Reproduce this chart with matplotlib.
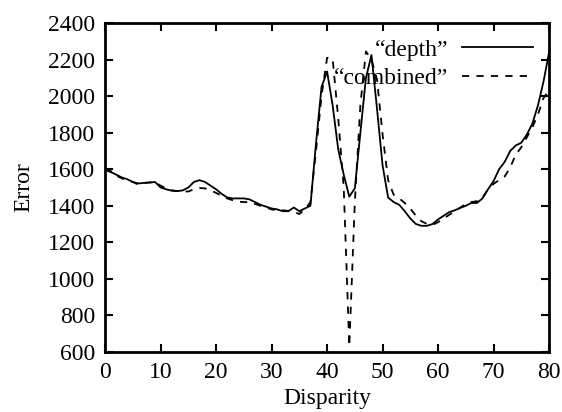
import matplotlib
matplotlib.use("Agg")
import matplotlib.pyplot as plt
import numpy as np

disparity = np.arange(0, 81)

depth = [1595, 1585, 1570, 1555, 1545, 1530, 1522, 1525, 1527, 1530,
         1500, 1490, 1482, 1480, 1484, 1500, 1530, 1540, 1530, 1510,
         1490, 1465, 1445, 1440, 1440, 1440, 1435, 1420, 1405, 1395,
         1385, 1380, 1370, 1370, 1390, 1370, 1385, 1400, 1740, 2050,
         2135, 1950, 1710, 1570, 1450, 1495, 1800, 2100, 2225, 1930,
         1620, 1445, 1420, 1405, 1370, 1330, 1300, 1290, 1290, 1300,
         1325, 1345, 1365, 1375, 1388, 1400, 1415, 1415, 1440, 1490,
         1535, 1600, 1640, 1700, 1730, 1745, 1790, 1850, 1950, 2080,
         2240]

combined = [1600, 1590, 1565, 1550, 1540, 1530, 1515, 1525, 1527, 1530,
            1510, 1495, 1485, 1480, 1478, 1478, 1490, 1497, 1495, 1485,
            1470, 1455, 1440, 1430, 1422, 1420, 1420, 1410, 1400, 1390,
            1380, 1375, 1375, 1372, 1365, 1355, 1380, 1420, 1700, 2000,
            2210, 2205, 1880, 1500, 630, 1420, 1950, 2245, 2200, 2090,
            1790, 1540, 1460, 1440, 1415, 1385, 1345, 1315, 1300, 1295,
            1310, 1330, 1350, 1370, 1390, 1410, 1420, 1425, 1445, 1490,
            1520, 1540, 1560, 1610, 1680, 1720, 1775, 1830, 1900, 1990,
            2030]

xticks = [0, 10, 20, 30, 40, 50, 60, 70, 80]
yticks = [600, 800, 1000, 1200, 1400, 1600, 1800, 2000, 2200, 2400]

plt.rcParams['font.family'] = ['Liberation Serif', 'DejaVu Serif']

fig = plt.figure(figsize=(5.62, 4.12), dpi=100, facecolor="white")
ax = fig.add_axes([0.187, 0.146, 0.790, 0.798])

ax.plot(disparity, depth, color="black", linewidth=1.3, label="\u201cdepth\u201d")
ax.plot(disparity, combined, color="black", linewidth=1.3, linestyle=(0, (4, 4)),
        label="\u201ccombined\u201d")

ax.set_xlim(0, 80)
ax.set_ylim(600, 2400)
ax.set_xticks(xticks)
ax.set_yticks(yticks)
ax.tick_params(direction="in", length=6, width=1.5, top=True, right=True,
               labelsize=17, pad=7)
for s in ax.spines.values():
    s.set_linewidth(2)

ax.set_xlabel("Disparity", fontsize=17, labelpad=4)
ax.set_ylabel("Error", fontsize=17, labelpad=10)

ax.legend(loc="upper right", frameon=False, markerfirst=False, fontsize=17,
          handlelength=3.0, handletextpad=0.6, labelspacing=0.3,
          borderaxespad=0.0, bbox_to_anchor=(0.985, 0.98))

fig.savefig("out.png", dpi=100)
